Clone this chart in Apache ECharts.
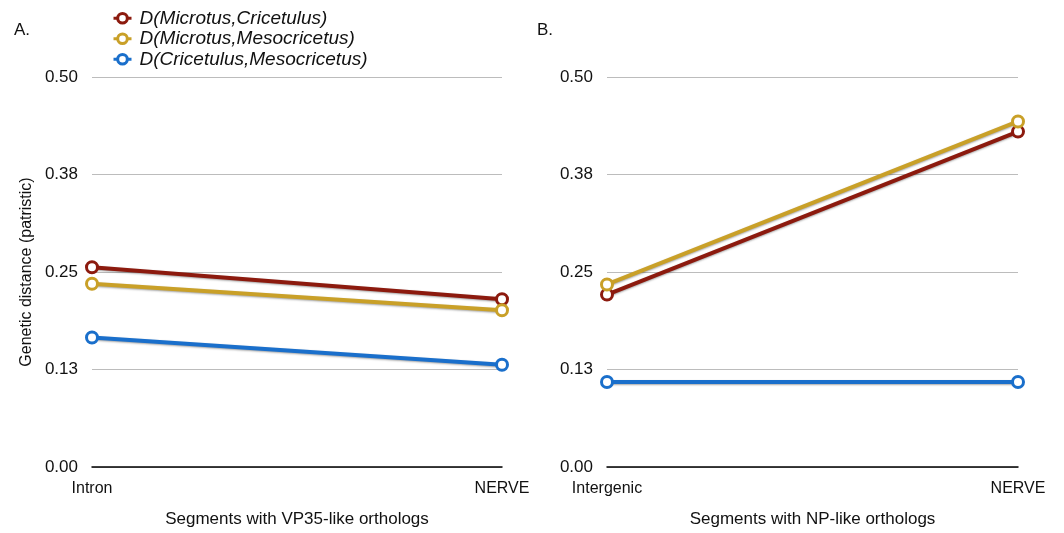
<!DOCTYPE html>
<html><head><meta charset="utf-8">
<script src="https://cdn.jsdelivr.net/npm/echarts@6/dist/echarts.min.js"></script>
<style>html,body{margin:0;padding:0;background:#fff}#c{width:1064px;height:533px}</style>
</head><body><div id="c"></div>
<script>
const seriesNames = ['D(Microtus,Cricetulus)', 'D(Microtus,Mesocricetus)', 'D(Cricetulus,Mesocricetus)'];
const colors = ['#8c1a0e', '#c9a028', '#1a6fcb'];
const catsA = ['Intron', 'NERVE'];
const catsB = ['Intergenic', 'NERVE'];
const valsA_MC = [0.256, 0.215];
const valsA_MM = [0.235, 0.201];
const valsA_CM = [0.166, 0.131];
const valsB_MC = [0.221, 0.430];
const valsB_MM = [0.234, 0.443];
const valsB_CM = [0.109, 0.109];
const yTickLabels = ['0.00', '0.13', '0.25', '0.38', '0.50'];
const xNameA = 'Segments with VP35-like orthologs';
const xNameB = 'Segments with NP-like orthologs';
const yName = 'Genetic distance (patristic)';

const font = 'Liberation Sans, Arial, Helvetica, sans-serif';
const chart = echarts.init(document.getElementById('c'));

function xAxis(idx, cats, name) {
  return {
    gridIndex: idx, type: 'category', data: cats, boundaryGap: false,
    axisLine: { show: true, lineStyle: { color: '#000', width: 1.5 } },
    axisTick: { show: false },
    axisLabel: { color: '#111', fontSize: 16, fontFamily: font, margin: 14 },
    name: name, nameLocation: 'middle', nameGap: 44,
    nameTextStyle: { color: '#111', fontSize: 17, fontFamily: font }
  };
}
function yAxis(idx, withName) {
  return {
    gridIndex: idx, type: 'value', min: 0, max: 0.5, interval: 0.125,
    axisLine: { show: false }, axisTick: { show: false },
    splitLine: { lineStyle: { color: '#bcbcbc', width: 1 } },
    axisLabel: {
      color: '#111', fontSize: 17, fontFamily: font, margin: 14,
      formatter: v => yTickLabels[Math.round(v / 0.125)]
    },
    name: withName ? yName : '', nameLocation: 'middle', nameGap: 57,
    nameTextStyle: { color: '#111', fontSize: 16, fontFamily: font }
  };
}
function line(name, data, ci, xi) {
  return {
    name: name, type: 'line', xAxisIndex: xi, yAxisIndex: xi, data: data,
    symbol: 'circle', symbolSize: 11,
    lineStyle: { color: colors[ci], width: 4, shadowColor: 'rgba(0,0,0,0.35)', shadowBlur: 2, shadowOffsetY: 1 },
    itemStyle: { color: '#fff', borderColor: colors[ci], borderWidth: 3 },
    emphasis: { disabled: true }, animation: false
  };
}

chart.setOption({
  animation: false,
  grid: [
    { left: 92, right: 562, top: 77, bottom: 63 },
    { left: 607, right: 46, top: 77, bottom: 63 }
  ],
  legend: {
    orient: 'vertical', left: 107, top: 3, itemGap: 0, itemWidth: 18, itemHeight: 12,
    data: seriesNames.map((n, i) => ({ name: n, itemStyle: { color: '#fff', borderColor: colors[i], borderWidth: 3 }, lineStyle: { color: colors[i], width: 3 } })),
    textStyle: { fontSize: 19, fontStyle: 'italic', color: '#111', fontFamily: font, lineHeight: 20.5, padding: [0, 0, 0, 3] }
  },
  graphic: [
    { type: 'text', left: 14, top: 22, style: { text: 'A.', fontSize: 17, fontFamily: font, fill: '#111' } },
    { type: 'text', left: 537, top: 22, style: { text: 'B.', fontSize: 17, fontFamily: font, fill: '#111' } }
  ],
  xAxis: [xAxis(0, catsA, xNameA), xAxis(1, catsB, xNameB)],
  yAxis: [yAxis(0, true), yAxis(1, false)],
  series: [
    line(seriesNames[0], valsA_MC, 0, 0),
    line(seriesNames[1], valsA_MM, 1, 0),
    line(seriesNames[2], valsA_CM, 2, 0),
    line(seriesNames[0], valsB_MC, 0, 1),
    line(seriesNames[1], valsB_MM, 1, 1),
    line(seriesNames[2], valsB_CM, 2, 1)
  ]
});
</script></body></html>
